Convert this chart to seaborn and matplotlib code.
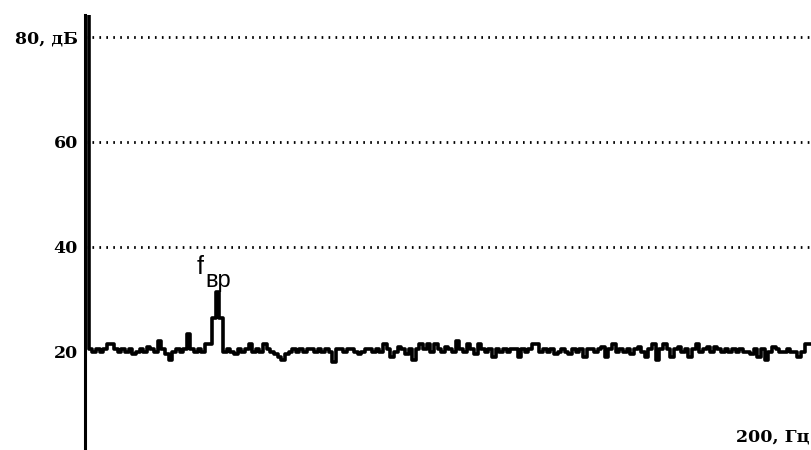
import matplotlib
matplotlib.use("Agg")
import matplotlib.pyplot as plt
import seaborn as sns
import pandas as pd
import numpy as np

# ---- data ----
freq_hz = list(range(0, 201))
level_db = [
    90, 20.5, 20, 20.5, 20, 20.5, 21.5, 21.5, 20.5, 20,
    20.5, 20, 20.5, 19.5, 20, 20.5, 20, 21, 20.5, 20,
    22, 20.5, 19.5, 18.5, 20, 20.5, 20, 20.5, 23.5, 20.5,
    20, 20.5, 20, 21.5, 21.5, 26.5, 31.5, 26.5, 20, 20.5,
    20, 19.5, 20.5, 20, 20.5, 21.5, 20, 20.5, 20, 21.5,
    20.5, 20, 19.5, 19, 18.5, 19.5, 20, 20.5, 20, 20.5,
    20, 20.5, 20.5, 20, 20.5, 20, 20.5, 20, 18, 20.5,
    20.5, 20, 20.5, 20.5, 20, 19.5, 20, 20.5, 20.5, 20,
    20.5, 20, 21.5, 20.5, 19, 20, 21, 20.5, 19.5, 20.5,
    18.5, 20.5, 21.5, 20.5, 21.5, 20, 21.5, 20.5, 20, 21,
    20.5, 20, 22, 20.5, 20, 21.5, 20.5, 19.5, 21.5, 20.5,
    20, 20.5, 19, 20.5, 20, 20.5, 20, 20.5, 20.5, 19,
    20.5, 20, 20.5, 21.5, 21.5, 20, 20.5, 20, 20.5, 19.5,
    20, 20.5, 20, 19.5, 20.5, 20, 20.5, 19, 20.5, 20.5,
    20, 20.5, 21, 19, 20.5, 21.5, 20, 20.5, 20, 20.5,
    19.5, 20.5, 21, 20, 19, 20.5, 21.5, 18.5, 20.5, 21.5,
    20.5, 19, 20.5, 21, 20, 20.5, 19, 20.5, 21.5, 20,
    20.5, 21, 20, 21, 20.5, 20, 20.5, 20, 20.5, 20,
    20.5, 20, 20, 19.5, 20.5, 19, 20.5, 18.5, 20, 21,
    20.5, 20, 20, 20.5, 20, 20, 19, 20, 21.5, 21.5, 21.5,
]
y_ticks = [20, 40, 60, 80]
y_tick_labels = ["20", "40", "60", "80, дБ"]
grid_levels = [40, 60, 80]
x_label = "200, Гц"
peak_label_main = "f"
peak_label_sub = "вр"

df = pd.DataFrame({"freq": freq_hz, "level": level_db})

sns.set_style("white")
plt.rcParams["font.family"] = ["DejaVu Sans"]

fig = plt.figure(figsize=(8.12, 4.5), dpi=100)
ax = fig.add_axes([85 / 812, 0.0, 1 - 85 / 812, 1 - 15 / 450])

for g in grid_levels:
    ax.axhline(g, color="black", lw=2.0, linestyle=(0, (0.6, 1.9)), zorder=1)

sns.lineplot(data=df, x="freq", y="level", ax=ax, color="black", lw=2.6,
             drawstyle="steps-post", zorder=3)

ax.set_xlim(0, 200)
ax.set_ylim(1.3, 84.2)
ax.set_yticks(y_ticks)
ax.set_yticklabels(y_tick_labels, fontfamily="DejaVu Serif",
                   fontweight="bold", fontsize=12.5, color="black")
ax.tick_params(axis="y", length=0, pad=5)
ax.set_xticks([])
ax.set_xlabel("")
ax.set_ylabel("")
for side in ["top", "right", "bottom"]:
    ax.spines[side].set_visible(False)
ax.spines["left"].set_color("black")
ax.spines["left"].set_linewidth(2.2)

ax.text(0.997, 0.01, x_label, transform=ax.transAxes, ha="right", va="bottom",
        fontfamily="DejaVu Serif", fontweight="bold", fontsize=12.5, color="black")

ax.text(30.8, 34.8, peak_label_main, fontsize=18, ha="left", va="baseline",
        fontfamily="Liberation Sans", color="black")
ax.text(33.0, 32.3, peak_label_sub, fontsize=17, ha="left", va="baseline",
        fontfamily="Liberation Sans", color="black")

fig.savefig("out.png", dpi=100, facecolor="white")
